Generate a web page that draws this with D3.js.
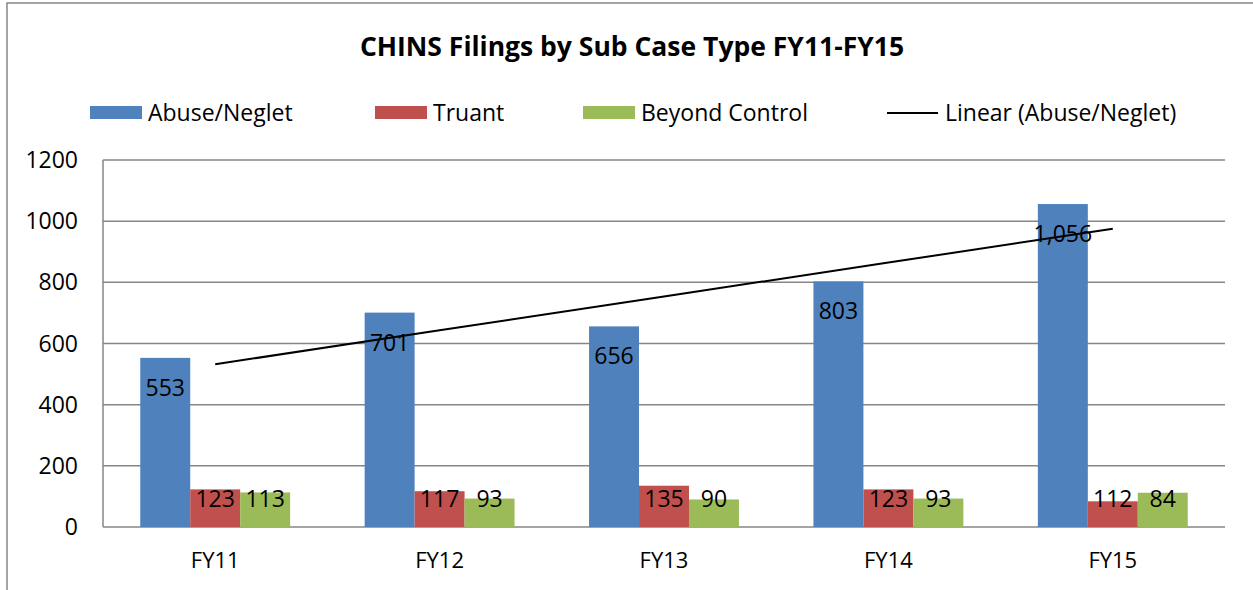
<!DOCTYPE html>
<html>
<head>
<meta charset="utf-8">
<script src="https://cdn.jsdelivr.net/npm/d3@7"></script>
<style>
  body { margin: 0; background: #fff; }
  svg { display: block; font-family: "Open Sans", sans-serif; }
</style>
</head>
<body>
<div id="chart"></div>
<script>
// data
const years = ["FY11", "FY12", "FY13", "FY14", "FY15"];
const series = ["Abuse/Neglet", "Truant", "Beyond Control"];
const abuse = [553, 701, 656, 803, 1056];
const truant = [123, 117, 135, 123, 84];
const beyond = [113, 93, 90, 93, 112];
// labels as printed (FY15 labels appear swapped in the source)
const truantLabels = [123, 117, 135, 123, 112];
const beyondLabels = [113, 93, 90, 93, 84];
const yTicks = [0, 200, 400, 600, 800, 1000, 1200];
const colors = ["#4F81BD", "#C0504D", "#9BBB59"];

const width = 1253, height = 590;
const margin = {top: 160, right: 28, bottom: 63, left: 103};
const w = width - margin.left - margin.right,
  h = height - margin.top - margin.bottom;

const svg = d3.select("#chart").append("svg")
  .attr("width", width)
  .attr("height", height);

// outer frame
svg.append("rect")
  .attr("x", 7).attr("y", 3)
  .attr("width", 1300).attr("height", 700)
  .attr("fill", "none")
  .attr("stroke", "#868686")
  .attr("stroke-width", 1.5);

// title
svg.append("text")
  .attr("x", 632).attr("y", 56)
  .attr("text-anchor", "middle")
  .style("font-weight", "bold")
  .style("font-size", "26.5px")
  .text("CHINS Filings by Sub Case Type FY11-FY15");

const g = svg.append("g")
  .attr("transform", "translate(" + margin.left + "," + margin.top + ")");

var x0 = d3.scaleBand()
  .domain(years)
  .range([0, w])
  .paddingInner(0.332)
  .paddingOuter(0.166);

var x1 = d3.scaleBand()
  .domain(series)
  .range([0, x0.bandwidth()]);

var y = d3.scaleLinear()
  .domain([0, 1200])
  .range([h, 0]);

// gridlines
g.selectAll(".grid")
  .data(yTicks)
  .enter()
  .append("line")
    .attr("x1", 0).attr("x2", w)
    .attr("y1", d => y(d)).attr("y2", d => y(d))
    .attr("stroke", "#868686")
    .attr("stroke-width", 1.5);

// left axis line
g.append("line")
  .attr("x1", 0).attr("x2", 0)
  .attr("y1", 0).attr("y2", h)
  .attr("stroke", "#868686")
  .attr("stroke-width", 1.5);

// y tick labels
g.selectAll(".ytick")
  .data(yTicks)
  .enter()
  .append("text")
    .attr("x", -25)
    .attr("y", d => y(d) + 8)
    .attr("text-anchor", "end")
    .style("font-size", "23px")
    .text(d => d);

// x tick labels
g.selectAll(".xtick")
  .data(years)
  .enter()
  .append("text")
    .attr("x", d => x0(d) + x0.bandwidth() / 2)
    .attr("y", h + 41)
    .attr("text-anchor", "middle")
    .style("font-size", "22px")
    .text(d => d);

// bars
const rows = [];
years.forEach((yr, i) => {
  rows.push({year: yr, s: series[0], v: abuse[i], label: abuse[i], c: colors[0]});
  rows.push({year: yr, s: series[1], v: truant[i], label: truantLabels[i], c: colors[1]});
  rows.push({year: yr, s: series[2], v: beyond[i], label: beyondLabels[i], c: colors[2]});
});

g.selectAll(".bar")
  .data(rows)
  .enter()
  .append("rect")
    .attr("class", "bar")
    .attr("x", d => x0(d.year) + x1(d.s))
    .attr("y", d => y(d.v))
    .attr("width", x1.bandwidth())
    .attr("height", d => h - y(d.v))
    .attr("fill", d => d.c);

// trendline (least squares on Abuse/Neglet)
const mx = d3.mean(abuse, (d, i) => i + 1);
const my = d3.mean(abuse);
const slope = d3.sum(abuse, (d, i) => (i + 1 - mx) * (d - my)) / d3.sum(abuse, (d, i) => (i + 1 - mx) ** 2);
const icept = my - slope * mx;
const trend = years.map((yr, i) => ({year: yr, v: icept + slope * (i + 1)}));

g.append("path")
  .datum(trend)
  .attr("fill", "none")
  .attr("stroke", "#000")
  .attr("stroke-width", 2)
  .attr("d", d3.line()
    .x(d => x0(d.year) + x0.bandwidth() / 2)
    .y(d => y(d.v)));

// value labels
g.selectAll(".vlabel")
  .data(rows)
  .enter()
  .append("text")
    .attr("x", d => x0(d.year) + x1(d.s) + x1.bandwidth() / 2)
    .attr("y", d => Math.min(y(d.v) + 38, h - 20))
    .attr("text-anchor", "middle")
    .style("font-size", "23px")
    .text(d => d3.format(",")(d.label));

// legend
const legend = [
  {name: "Abuse/Neglet", x: 90, type: "rect", c: colors[0]},
  {name: "Truant", x: 375, type: "rect", c: colors[1]},
  {name: "Beyond Control", x: 583, type: "rect", c: colors[2]},
  {name: "Linear (Abuse/Neglet)", x: 887, type: "line", c: "#000"}
];

const lg = svg.selectAll(".legend")
  .data(legend)
  .enter()
  .append("g")
    .attr("transform", d => "translate(" + d.x + ",0)");

lg.filter(d => d.type == "rect")
  .append("rect")
    .attr("x", 0).attr("y", 106)
    .attr("width", 52).attr("height", 13)
    .attr("fill", d => d.c);

lg.filter(d => d.type == "line")
  .append("line")
    .attr("x1", 0).attr("x2", 51)
    .attr("y1", 113).attr("y2", 113)
    .attr("stroke", "#000")
    .attr("stroke-width", 2);

lg.append("text")
  .attr("x", 58)
  .attr("y", 121)
  .style("font-size", "23px")
  .text(d => d.name);
</script>
</body>
</html>
